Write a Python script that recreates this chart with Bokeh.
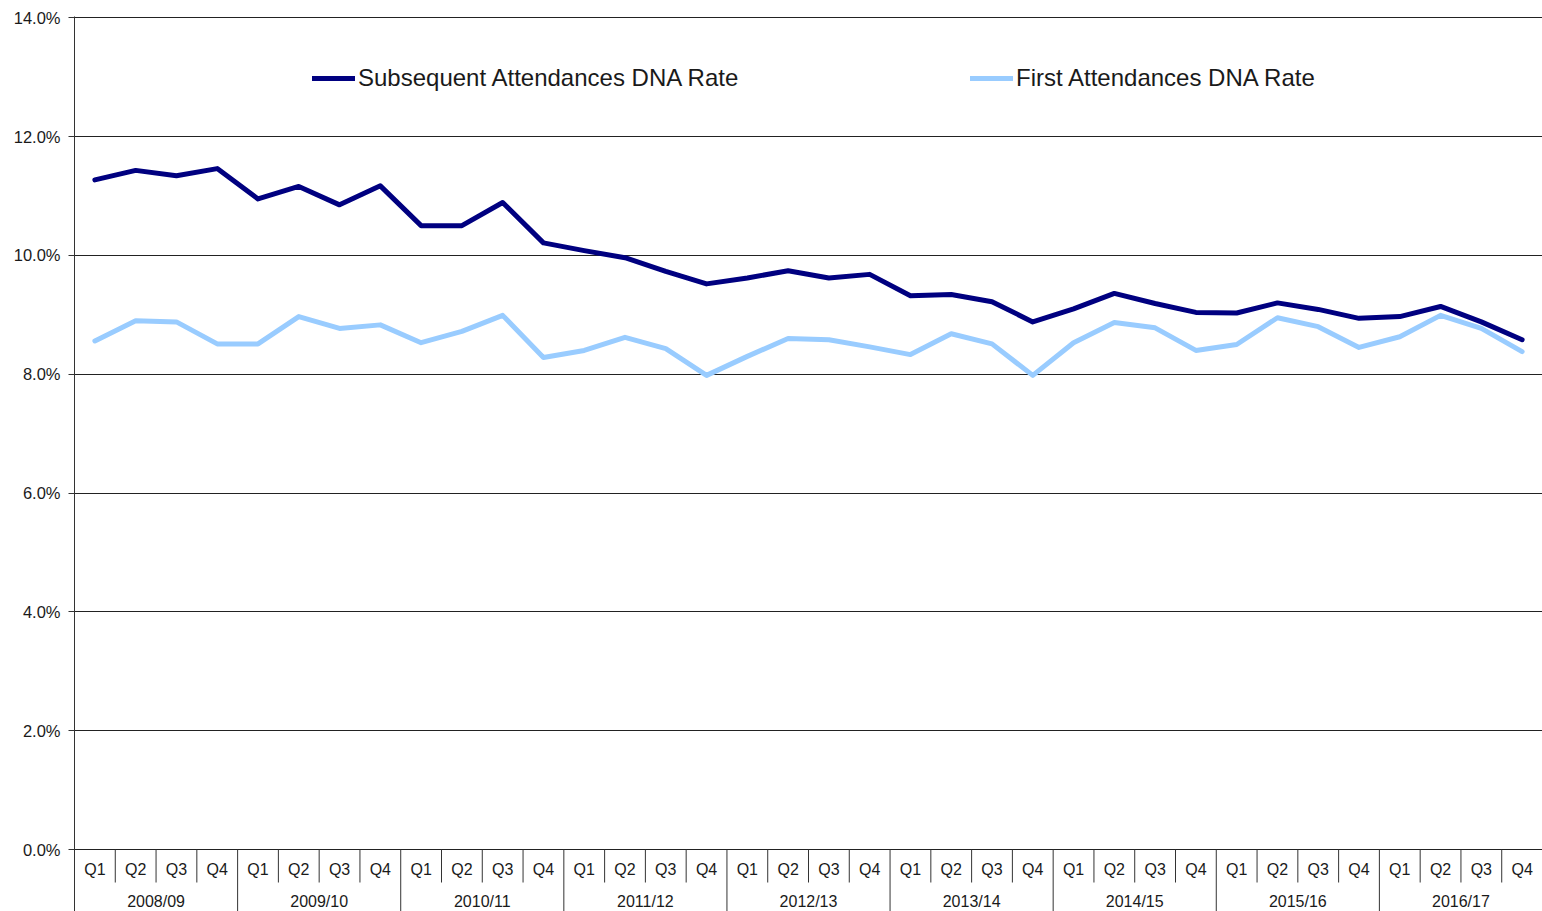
from bokeh.plotting import figure
from bokeh.models import (FactorRange, Range1d, FixedTicker, PrintfTickFormatter,
                          Legend, LegendItem, ColumnDataSource)
from bokeh.core.properties import value
from bokeh.embed import file_html
from bokeh.resources import INLINE

years = ["2008/09", "2009/10", "2010/11", "2011/12", "2012/13",
         "2013/14", "2014/15", "2015/16", "2016/17"]
quarters = ["Q1", "Q2", "Q3", "Q4"]

subsequent_dna = [11.27, 11.43, 11.34, 11.46,
                  10.95, 11.16, 10.85, 11.17,
                  10.50, 10.50, 10.89, 10.21,
                  10.08, 9.96, 9.73, 9.52,
                  9.62, 9.74, 9.62, 9.68,
                  9.32, 9.34, 9.22, 8.88,
                  9.10, 9.36, 9.19, 9.04,
                  9.03, 9.20, 9.09, 8.94,
                  8.97, 9.14, 8.88, 8.58]
first_dna = [8.56, 8.90, 8.88, 8.51,
             8.51, 8.97, 8.77, 8.83,
             8.53, 8.72, 8.99, 8.28,
             8.40, 8.62, 8.43, 7.98,
             8.30, 8.60, 8.58, 8.46,
             8.33, 8.68, 8.51, 7.98,
             8.53, 8.87, 8.78, 8.40,
             8.50, 8.95, 8.80, 8.45,
             8.63, 8.99, 8.77, 8.38]
y_ticks = [0, 2, 4, 6, 8, 10, 12, 14]

FONT = "Liberation Sans"
factors = [(y, q) for y in years for q in quarters]

x_range = FactorRange(factors=factors, group_padding=0, factor_padding=0,
                      subgroup_padding=0, range_padding=0)
p = figure(width=1542, height=911, x_range=x_range, y_range=Range1d(-1.043, 14.02),
           output_backend="svg", toolbar_location=None, x_axis_location=None,
           min_border_left=74, min_border_right=0, min_border_top=16, min_border_bottom=0)
p.outline_line_color = None
p.background_fill_color = "white"
p.border_fill_color = "white"

# y axis
p.yaxis.ticker = FixedTicker(ticks=y_ticks)
p.yaxis.formatter = PrintfTickFormatter(format="%.1f%%")
p.yaxis.major_label_text_font = FONT
p.yaxis.major_label_text_font_size = "16.5px"
p.yaxis.major_label_text_color = "#1a1a1a"
p.yaxis.major_tick_out = 6
p.yaxis.major_tick_in = 0
p.yaxis.minor_tick_out = 0
p.yaxis.minor_tick_in = 0
p.yaxis.major_label_standoff = 8
p.yaxis.axis_line_color = "#333333"
p.yaxis.major_tick_line_color = "#333333"
p.ygrid.grid_line_color = "#222222"
p.ygrid.grid_line_width = 1
p.xgrid.grid_line_color = None

# data lines
src = ColumnDataSource(dict(x=factors, sub=subsequent_dna, first=first_dna))
r_sub = p.line("x", "sub", source=src, line_color="#000080", line_width=5,
               line_cap="round", line_join="round")
r_first = p.line("x", "first", source=src, line_color="#99CCFF", line_width=5,
                 line_cap="round", line_join="round")

# category axis drawn as a table below zero
q_lab = ColumnDataSource(dict(x=factors, t=[q for (_, q) in factors]))
p.text("x", value(-0.33), text="t", source=q_lab, text_font=value(FONT),
       text_font_size="16px", text_color="#1a1a1a", text_align="center",
       text_baseline="middle")
y_lab = ColumnDataSource(dict(x=years, t=years))
p.text("x", value(-0.88), text="t", source=y_lab, text_font=value(FONT),
       text_font_size="16px", text_color="#1a1a1a", text_align="center",
       text_baseline="middle")

q_sep = [(y, q, -0.5) for y in years for q in quarters[1:]]
p.segment(x0=q_sep, y0=[0] * len(q_sep), x1=q_sep, y1=[-0.555] * len(q_sep),
          line_color="#333333", line_width=1)
y_sep = [(y, "Q1", -0.5) for y in years] + [(years[-1], "Q4", 0.5)]
p.segment(x0=y_sep, y0=[0] * len(y_sep), x1=y_sep, y1=[-1.043] * len(y_sep),
          line_color="#333333", line_width=1)

# legends
def make_legend(label, renderer, loc):
    lg = Legend(items=[LegendItem(label=label, renderers=[renderer])],
                location=loc, orientation="horizontal", padding=0, margin=0,
                glyph_width=43, glyph_height=24, label_height=24,
                label_standoff=3, border_line_color=None,
                background_fill_alpha=0, label_text_font=FONT,
                label_text_font_size="24px", label_text_color="#1a1a1a")
    return lg

p.add_layout(make_legend("Subsequent Attendances DNA Rate", r_sub, (238, 819)), "center")
p.add_layout(make_legend("First Attendances DNA Rate", r_first, (896, 819)), "center")

open("out.html", "w").write(file_html(p, INLINE))
